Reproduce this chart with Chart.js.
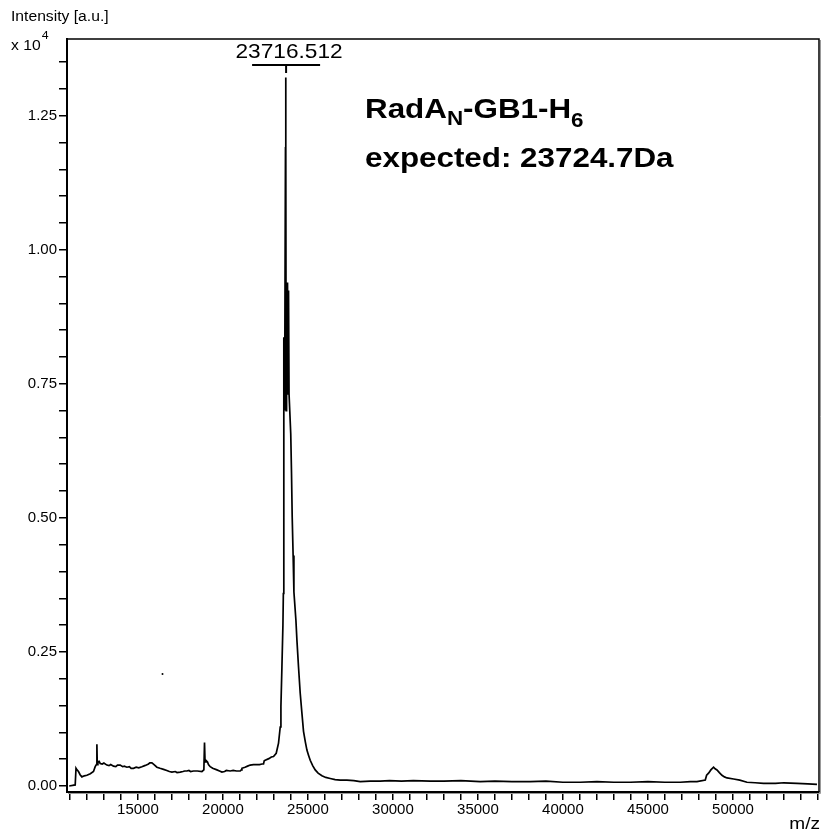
<!DOCTYPE html>
<html><head><meta charset="utf-8">
<script src="https://cdn.jsdelivr.net/npm/chart.js@4/dist/chart.umd.min.js"></script>
<style>html,body{margin:0;padding:0;background:#fff;}#wrap{width:823px;height:831px;position:relative}</style>
</head><body><div id="wrap"><canvas id="c" width="823" height="831"></canvas></div>
<script>
// m/z values (Da)
const MZ = [10960,11150,11312,11360,11420,11506,11600,11706,11850,12000,12200,12388,12488,12560,12588,12610,12647,12720,12782,12900,
13000,13176,13300,13400,13565,13700,13800,13959,14100,14200,14353,14500,14600,14741,14900,15050,15235,15400,15500,15624,
15700,15824,15950,16118,16300,16506,16700,16850,17000,17200,17300,17488,17650,17750,17882,18000,18100,18271,18500,18765,
18880,18918,18950,19000,19094,19150,19253,19400,19647,19800,19941,20100,20200,20429,20600,20800,21018,21080,21118,21300,
21450,21606,21800,22000,22153,22300,22388,22430,22488,22700,22850,22976,23135,23271,23371,23412,23471,23530,23555,23575,
23590,23630,23680,23692,23705,23720,23745,23770,23800,23830,23860,23890,23940,23990,24035,24076,24130,24176,24294,24353,
24447,24547,24647,24741,24850,24941,25040,25135,25280,25429,25600,25824,26050,26312,26600,26900,27294,27700,28076,28665,
29253,29800,30500,31200,32194,33000,34000,35135,36000,37000,38076,39000,40000,41018,42000,43000,43959,45000,46000,46900,
47500,47882,48371,48450,48565,48700,48859,48950,49059,49200,49353,49500,49647,50035,50400,50824,51300,51800,52500,53000,
53765,54400,54941];
// Intensity (x 10^4 a.u.)
const INTENSITY = [0.000,0.001,0.002,0.033,0.030,0.027,0.021,0.017,0.019,0.020,0.023,0.027,0.036,0.040,0.078,0.040,0.045,0.046,0.042,0.041,
0.043,0.039,0.038,0.040,0.037,0.036,0.039,0.039,0.036,0.037,0.035,0.036,0.033,0.033,0.035,0.034,0.036,0.038,0.039,0.041,
0.043,0.043,0.040,0.035,0.033,0.031,0.029,0.027,0.026,0.027,0.025,0.026,0.027,0.028,0.028,0.029,0.027,0.028,0.028,0.027,
0.030,0.081,0.045,0.048,0.045,0.040,0.036,0.033,0.030,0.028,0.026,0.027,0.029,0.028,0.029,0.028,0.028,0.030,0.033,0.035,
0.037,0.039,0.040,0.040,0.040,0.041,0.041,0.047,0.048,0.051,0.054,0.055,0.061,0.080,0.110,0.148,0.222,0.300,0.359,0.384,
0.837,0.700,1.190,1.321,1.190,0.700,0.924,0.731,0.939,0.760,0.924,0.731,0.731,0.657,0.583,0.501,0.430,0.362,0.309,0.272,
0.222,0.173,0.136,0.102,0.082,0.067,0.057,0.048,0.038,0.030,0.024,0.019,0.016,0.014,0.012,0.011,0.011,0.010,0.008,0.009,
0.009,0.010,0.009,0.010,0.009,0.009,0.010,0.008,0.009,0.008,0.008,0.009,0.007,0.007,0.008,0.007,0.007,0.008,0.007,0.007,
0.008,0.008,0.011,0.020,0.024,0.030,0.035,0.032,0.030,0.025,0.020,0.017,0.015,0.013,0.011,0.007,0.006,0.005,0.005,0.006,
0.005,0.004,0.003];
// stray dot in the figure
const STRAY_MZ = [16447];
const STRAY_INT = [0.209];
// tick labels
const X_TICK_LABELS = [15000,20000,25000,30000,35000,40000,45000,50000];
const Y_TICK_LABELS = ['0.00','0.25','0.50','0.75','1.00','1.25'];
const PEAK_MZ = 23716.512;
const PEAK_LABEL = '23716.512';
const TITLE_LINE1 = ['RadA','N','-GB1-H','6'];
const TITLE_LINE2 = 'expected: 23724.7Da';

const X_MINOR = []; for (let v = 11000; v <= 55000; v += 1000) X_MINOR.push(v);
const Y_MINOR = []; for (let i = 0; i <= 27; i++) Y_MINOR.push(Math.round(i * 5) / 100);

const FONT = '"Liberation Sans", Arial, Helvetica, sans-serif';
const SX = 1.12;

function txt(ctx, s, x, y, font, align) {
  ctx.save();
  ctx.translate(x, y);
  ctx.scale(SX, 1);
  ctx.font = font;
  ctx.textAlign = align || 'left';
  ctx.textBaseline = 'alphabetic';
  ctx.fillStyle = '#000';
  ctx.fillText(s, 0, 0);
  const w = ctx.measureText(s).width * SX;
  ctx.restore();
  return w;
}

const decor = {
  id: 'decor',
  afterDraw(chart) {
    const ctx = chart.ctx, a = chart.chartArea, xs = chart.scales.x;
    ctx.save();
    // frame
    ctx.strokeStyle = '#000'; ctx.lineWidth = 1.5;
    ctx.beginPath();
    ctx.moveTo(a.left, a.top); ctx.lineTo(a.right, a.top); ctx.lineTo(a.right, a.bottom);
    ctx.stroke();
    ctx.strokeStyle = '#999'; ctx.lineWidth = 1;
    ctx.beginPath();
    ctx.moveTo(a.left + 1, a.bottom + 1.5); ctx.lineTo(a.right + 1.5, a.bottom + 1.5); ctx.lineTo(a.right + 1.5, a.top + 1);
    ctx.stroke();
    // axis titles
    txt(ctx, 'Intensity [a.u.]', 11, 21, '14px ' + FONT);
    const w = txt(ctx, 'x 10', 11, 50, '14px ' + FONT);
    txt(ctx, '4', 11 + w + 1, 39, '11px ' + FONT);
    txt(ctx, 'm/z', 820, 829, '17px ' + FONT, 'right');
    // peak label
    const px = xs.getPixelForValue(PEAK_MZ);
    ctx.strokeStyle = '#000'; ctx.lineWidth = 2;
    ctx.beginPath();
    ctx.moveTo(px - 34, 65); ctx.lineTo(px + 34, 65);
    ctx.moveTo(px, 65); ctx.lineTo(px, 73);
    ctx.stroke();
    ctx.save(); ctx.translate(px + 3, 58); ctx.scale(1.08, 1);
    ctx.font = '21px ' + FONT; ctx.textAlign = 'center'; ctx.fillStyle = '#000';
    ctx.fillText(PEAK_LABEL, 0, 0); ctx.restore();
    // compound annotation
    let x = 365;
    x += txt(ctx, TITLE_LINE1[0], x, 118, 'bold 28px ' + FONT);
    x += txt(ctx, TITLE_LINE1[1], x, 125, 'bold 20px ' + FONT);
    x += txt(ctx, TITLE_LINE1[2], x, 118, 'bold 28px ' + FONT);
    txt(ctx, TITLE_LINE1[3], x, 127, 'bold 20px ' + FONT);
    txt(ctx, TITLE_LINE2, 365, 167, 'bold 28px ' + FONT);
    ctx.restore();
  }
};

new Chart(document.getElementById('c'), {
  type: 'line',
  data: {
    datasets: [{
      data: MZ.map((m, i) => ({ x: m, y: INTENSITY[i] })),
      borderColor: '#000', borderWidth: 1.7, pointRadius: 0, tension: 0, fill: false
    }, {
      type: 'scatter',
      data: STRAY_MZ.map((m, i) => ({ x: m, y: STRAY_INT[i] })),
      pointRadius: 1, pointBackgroundColor: '#000', pointBorderWidth: 0
    }]
  },
  options: {
    responsive: false, animation: false, devicePixelRatio: 1,
    plugins: { legend: { display: false }, tooltip: { enabled: false } },
    layout: { padding: { top: 39, right: 4, left: 0, bottom: 0 } },
    scales: {
      x: {
        type: 'linear', min: 10830, max: 55060,
        afterBuildTicks: s => { s.ticks = X_MINOR.map(v => ({ value: v })); },
        afterFit: s => { s.height = 39; },
        ticks: {
          autoSkip: false, maxRotation: 0, padding: 1, color: '#000',
          font: { family: FONT, size: 15 },
          callback: v => X_TICK_LABELS.includes(v) ? String(v) : ''
        },
        grid: { display: true, drawOnChartArea: false, drawTicks: true, tickLength: 8, color: '#000', lineWidth: 1.5 },
        border: { display: true, color: '#000', width: 2 }
      },
      y: {
        type: 'linear', min: -0.0112, max: 1.393,
        afterBuildTicks: s => { s.ticks = Y_MINOR.map(v => ({ value: v })); },
        afterFit: s => { s.width = 67; },
        ticks: {
          autoSkip: false, padding: 2, color: '#000',
          font: { family: FONT, size: 15 },
          callback: v => { const l = v.toFixed(2); return Y_TICK_LABELS.includes(l) ? l : ''; }
        },
        grid: { display: true, drawOnChartArea: false, drawTicks: true, tickLength: 8, color: '#000', lineWidth: 1.5 },
        border: { display: true, color: '#000', width: 2 }
      }
    }
  },
  plugins: [decor]
});
</script>
</body></html>
